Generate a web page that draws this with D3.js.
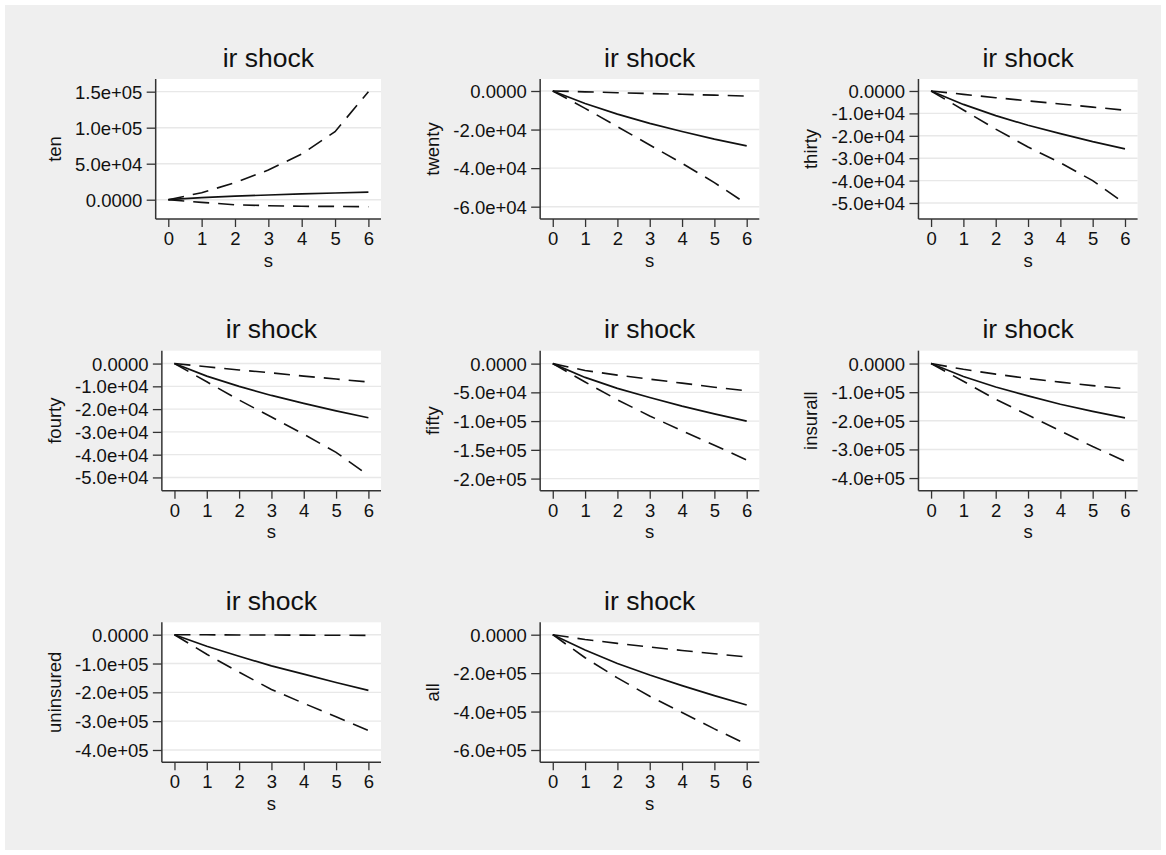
<!DOCTYPE html>
<html>
<head>
<meta charset="utf-8">
<script src="https://cdn.jsdelivr.net/npm/d3@7"></script>
<style>
  html, body { margin: 0; padding: 0; background: #ffffff; }
  svg { display: block; font-family: "Liberation Sans", Arial, Helvetica, sans-serif; }
</style>
</head>
<body>
<svg id="chart" width="1166" height="855"></svg>
<script>
// ---------------- data ----------------
const steps = [0, 1, 2, 3, 4, 5, 6];
const xTicks = [0, 1, 2, 3, 4, 5, 6];
const panelTitle = "ir shock";
const xTitle = "s";
const panelNames = ["ten", "twenty", "thirty", "fourty", "fifty", "insurall", "uninsured", "all"];

// impulse response (solid) and lower / upper bands (dashed)
const irfTen    = [0, 3000, 5000, 6500, 8000, 9300, 10600];
const lowTen    = [0, -3700, -7000, -8300, -9200, -9300, -9700];
const highTen   = [0, 9700, 23600, 41200, 63400, 94500, 150000];

const irfTwenty  = [0, -6500, -12000, -16800, -21000, -25000, -28500];
const lowTwenty  = [0, -9000, -18500, -28000, -37500, -47500, -58600];
const highTwenty = [0, -430, -870, -1300, -1700, -2150, -2600];

const irfThirty  = [0, -6000, -11000, -15300, -19000, -22600, -25800];
const lowThirty  = [0, -8500, -17000, -25000, -32000, -40000, -50300];
const highThirty = [0, -1500, -3000, -4400, -5800, -7200, -8600];

const irfFourty  = [0, -5500, -10000, -14000, -17500, -20800, -23800];
const lowFourty  = [0, -8000, -16000, -23500, -31000, -39000, -49100];
const highFourty = [0, -1400, -2800, -4100, -5500, -6800, -8100];

const irfFifty   = [0, -24000, -43000, -59000, -74000, -87500, -100000];
const lowFifty   = [0, -32000, -63000, -91000, -117000, -142000, -167600];
const highFifty  = [0, -12000, -20000, -27000, -34000, -41000, -47400];

const irfInsurall  = [0, -45000, -82000, -113000, -142000, -167000, -190000];
const lowInsurall  = [0, -62000, -125000, -180000, -235000, -290000, -341000];
const highInsurall = [0, -20000, -37000, -52000, -65000, -77000, -88000];

const irfUninsured  = [0, -40000, -75000, -108000, -137000, -166000, -193000];
const lowUninsured  = [0, -68000, -130000, -190000, -238000, -285000, -332000];
const highUninsured = [0, -400, -800, -1200, -1600, -2000, -2300];

const irfAll  = [0, -80000, -150000, -210000, -265000, -317000, -366000];
const lowAll  = [0, -120000, -225000, -320000, -405000, -490000, -570000];
const highAll = [0, -25000, -45000, -64000, -82000, -99000, -116000];

// y axis ticks and labels
const yTicksTen = [0, 50000, 100000, 150000];
const yLabelsTen = ["0.0000", "5.0e+04", "1.0e+05", "1.5e+05"];
const yTicksTwenty = [0, -20000, -40000, -60000];
const yLabelsTwenty = ["0.0000", "-2.0e+04", "-4.0e+04", "-6.0e+04"];
const yTicksThirty = [0, -10000, -20000, -30000, -40000, -50000];
const yLabelsThirty = ["0.0000", "-1.0e+04", "-2.0e+04", "-3.0e+04", "-4.0e+04", "-5.0e+04"];
const yTicksFourty = [0, -10000, -20000, -30000, -40000, -50000];
const yLabelsFourty = ["0.0000", "-1.0e+04", "-2.0e+04", "-3.0e+04", "-4.0e+04", "-5.0e+04"];
const yTicksFifty = [0, -50000, -100000, -150000, -200000];
const yLabelsFifty = ["0.0000", "-5.0e+04", "-1.0e+05", "-1.5e+05", "-2.0e+05"];
const yTicksInsurall = [0, -100000, -200000, -300000, -400000];
const yLabelsInsurall = ["0.0000", "-1.0e+05", "-2.0e+05", "-3.0e+05", "-4.0e+05"];
const yTicksUninsured = [0, -100000, -200000, -300000, -400000];
const yLabelsUninsured = ["0.0000", "-1.0e+05", "-2.0e+05", "-3.0e+05", "-4.0e+05"];
const yTicksAll = [0, -200000, -400000, -600000];
const yLabelsAll = ["0.0000", "-2.0e+05", "-4.0e+05", "-6.0e+05"];

// y axis extents of each plot region [min, max]
const yRangeTen = [-26800, 167600];
const yRangeTwenty = [-66390, 6224];
const yRangeThirty = [-57123, 5343];
const yRangeFourty = [-55800, 5667];
const yRangeFifty = [-221000, 22550];
const yRangeInsurall = [-444000, 45100];
const yRangeUninsured = [-442700, 43000];
const yRangeAll = [-664000, 64500];

// ---------------- assemble ----------------
const panels = [
  { name: panelNames[0], irf: irfTen, low: lowTen, high: highTen, ticks: yTicksTen, labels: yLabelsTen, range: yRangeTen },
  { name: panelNames[1], irf: irfTwenty, low: lowTwenty, high: highTwenty, ticks: yTicksTwenty, labels: yLabelsTwenty, range: yRangeTwenty },
  { name: panelNames[2], irf: irfThirty, low: lowThirty, high: highThirty, ticks: yTicksThirty, labels: yLabelsThirty, range: yRangeThirty },
  { name: panelNames[3], irf: irfFourty, low: lowFourty, high: highFourty, ticks: yTicksFourty, labels: yLabelsFourty, range: yRangeFourty },
  { name: panelNames[4], irf: irfFifty, low: lowFifty, high: highFifty, ticks: yTicksFifty, labels: yLabelsFifty, range: yRangeFifty },
  { name: panelNames[5], irf: irfInsurall, low: lowInsurall, high: highInsurall, ticks: yTicksInsurall, labels: yLabelsInsurall, range: yRangeInsurall },
  { name: panelNames[6], irf: irfUninsured, low: lowUninsured, high: highUninsured, ticks: yTicksUninsured, labels: yLabelsUninsured, range: yRangeUninsured },
  { name: panelNames[7], irf: irfAll, low: lowAll, high: highAll, ticks: yTicksAll, labels: yLabelsAll, range: yRangeAll }
];

// ---------------- layout / style ----------------
const W = 1166, H = 855;
const colStep = 378.3, rowStep = 271.65;
const firstTop = 79, plotH = 140, firstRight = 381;
const yTitleSpace = 75;          // from column origin to left edge of widest tick label
const tickLen = 9, tickGap = 4.3;
const tickFont = 18.5, titleFont = 26.5, axisTitleFont = 18.5;
const axisColor = "#333333", gridColor = "#e8e8e8", lineColor = "#111111";

const svg = d3.select("#chart");

svg.append("rect").attr("x", 0).attr("y", 0).attr("width", W).attr("height", H).attr("fill", "#ffffff");
svg.append("rect").attr("x", 5).attr("y", 5).attr("width", W - 10).attr("height", H - 10).attr("fill", "#efefef");

// helper to measure text width
const measurer = svg.append("text").attr("font-size", tickFont).attr("visibility", "hidden");
function textWidth(str) { measurer.text(str); return measurer.node().getComputedTextLength(); }

panels.forEach((p, i) => {
  const col = i % 3, row = Math.floor(i / 3);
  const colX = col * colStep;
  const top = firstTop + row * rowStep;
  const bottom = top + plotH;
  const right = firstRight + colX;
  const labelW = d3.max(p.labels, textWidth);
  const labelLeft = colX + yTitleSpace;
  const left = labelLeft + labelW + tickGap + tickLen;

  const x = d3.scaleLinear().domain([0, 6]).range([left + 12.6, right - 12.6]);
  const y = d3.scaleLinear().domain(p.range).range([bottom, top]);

  const g = svg.append("g").attr("class", "panel-" + p.name);

  // plot region
  g.append("rect").attr("x", left).attr("y", top).attr("width", right - left).attr("height", bottom - top).attr("fill", "#ffffff");

  // gridlines
  g.append("g").selectAll("line").data(p.ticks).join("line")
    .attr("x1", left).attr("x2", right)
    .attr("y1", d => y(d)).attr("y2", d => y(d))
    .attr("stroke", gridColor).attr("stroke-width", 1.4);

  // series
  const line = d3.line().x((d, k) => x(steps[k])).y(d => y(d));
  g.append("path").datum(p.low).attr("d", line).attr("fill", "none")
    .attr("stroke", lineColor).attr("stroke-width", 1.6).attr("stroke-dasharray", "16,9");
  g.append("path").datum(p.high).attr("d", line).attr("fill", "none")
    .attr("stroke", lineColor).attr("stroke-width", 1.6).attr("stroke-dasharray", "16,9");
  g.append("path").datum(p.irf).attr("d", line).attr("fill", "none")
    .attr("stroke", lineColor).attr("stroke-width", 1.7);

  // y axis
  const yAxis = d3.axisLeft(y).tickValues(p.ticks).tickFormat((d, k) => p.labels[k])
    .tickSize(tickLen).tickPadding(tickGap);
  const ya = g.append("g").attr("transform", `translate(${left},0)`).call(yAxis);
  ya.select(".domain").attr("d", `M0,${top}V${bottom}`).attr("stroke", axisColor).attr("stroke-width", 1.5);
  ya.selectAll(".tick line").attr("stroke", axisColor).attr("stroke-width", 1.3);
  ya.selectAll(".tick text").attr("font-size", tickFont).attr("font-family", "Liberation Sans, Arial, sans-serif")
    .attr("fill", "#111").attr("dy", "0.35em");

  // x axis
  const xAxis = d3.axisBottom(x).tickValues(xTicks).tickFormat(d3.format("d"))
    .tickSize(8).tickPadding(5);
  const xa = g.append("g").attr("transform", `translate(0,${bottom})`).call(xAxis);
  xa.select(".domain").attr("d", `M${left},0H${right}`).attr("stroke", axisColor).attr("stroke-width", 1.5);
  xa.selectAll(".tick line").attr("stroke", axisColor).attr("stroke-width", 1.3);
  xa.selectAll(".tick text").attr("font-size", tickFont).attr("font-family", "Liberation Sans, Arial, sans-serif")
    .attr("fill", "#111").attr("y", 0).attr("dy", null).attr("transform", "translate(0,26)");

  // titles
  g.append("text").attr("x", (left + right) / 2).attr("y", top - 12.3)
    .attr("text-anchor", "middle").attr("font-size", titleFont).attr("fill", "#111").text(panelTitle);
  g.append("text").attr("x", (left + right) / 2).attr("y", bottom + 47.7)
    .attr("text-anchor", "middle").attr("font-size", axisTitleFont).attr("fill", "#111").text(xTitle);
  const ytx = labelLeft - 20, yty = (top + bottom) / 2;
  g.append("text").attr("transform", `translate(${ytx},${yty}) rotate(-90)`)
    .attr("text-anchor", "middle").attr("dy", "0.3em")
    .attr("font-size", axisTitleFont).attr("fill", "#111").text(p.name);
});
measurer.remove();
</script>
</body>
</html>
